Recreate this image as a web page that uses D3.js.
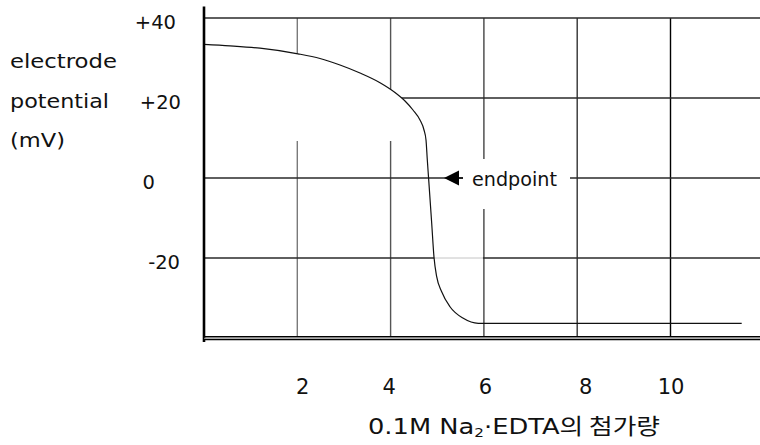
<!DOCTYPE html>
<html>
<head>
<meta charset="utf-8">
<script src="https://cdn.jsdelivr.net/npm/d3@7"></script>
<style>
  html, body { margin: 0; padding: 0; background: #fff; }
  svg { display: block; }
  text { font-family: "DejaVu Sans", "Liberation Sans", sans-serif; fill: #111; }
</style>
</head>
<body>
<svg id="chart" width="760" height="445"></svg>
<script>
// ---- data ----
const volume    = [0, 0.557, 1.200, 2.015, 2.487, 2.915, 3.344, 3.773, 4.094, 4.309, 4.480, 4.630, 4.716, 4.759, 4.787, 4.815, 4.881, 4.930, 4.988, 5.095, 5.273, 5.558, 5.880, 11.526];
const potential = [33.43, 33.05, 32.45, 31.05, 29.88, 28.25, 26.25, 23.83, 21.38, 19.25, 17.0, 14.5, 12.0, 9.5, 4.5, -0.15, -11.3, -19.75, -24.68, -28.43, -32.18, -35.08, -36.33, -36.33];
const xTicks = [2, 4, 6, 8, 10];
const yTicks = [40, 20, 0, -20];
const yTickLabels = ["+40", "+20", "0", "-20"];
const yTitleLines = ["electrode", "potential", "(mV)"];
const xTitleParts = ["0.1M Na", "2", "·EDTA", "의 첨가량"];
const endpointLabel = "endpoint";
const endpointValue = 0;

// ---- layout ----
const svg = d3.select("#chart");
const x = d3.scaleLinear().domain([0, 12]).range([204, 204 + 12 * 46.65]);
const y = d3.scaleLinear().domain([-40, 40]).range([338, 18]);
const W = 760;
const pts = volume.map((v, i) => [v, potential[i]]);

function crossAt(level) {
  for (let i = 1; i < pts.length; i++) {
    const a = pts[i - 1], b = pts[i];
    if ((a[1] - level) * (b[1] - level) <= 0 && a[1] !== b[1]) {
      return a[0] + (level - a[1]) / (b[1] - a[1]) * (b[0] - a[0]);
    }
  }
  return null;
}

const g = svg.append("g");

// vertical gridlines
const vColors = ["#7a7a7a", "#555", "#444", "#333", "#000"];
g.selectAll("line.vgrid").data(xTicks).join("line")
  .attr("class", "vgrid")
  .attr("x1", d => x(d)).attr("x2", d => x(d))
  .attr("y1", y(40)).attr("y2", y(-40) - 1)
  .attr("stroke", (d, i) => vColors[i])
  .attr("stroke-width", 1.4);

// horizontal gridlines
const gridLevels = [40, 20, 0, -20];
g.selectAll("line.hgrid").data(gridLevels).join("line")
  .attr("class", "hgrid")
  .attr("x1", x(0)).attr("x2", W)
  .attr("y1", d => y(d)).attr("y2", d => y(d))
  .attr("stroke", "#2a2a2a")
  .attr("stroke-width", 1.3);

// lighter piece of the -20 line between the curve and the 6 gridline
const c20 = crossAt(-20);
g.append("line")
  .attr("x1", x(c20)).attr("x2", x(6) - 1)
  .attr("y1", y(-20)).attr("y2", y(-20))
  .attr("stroke", "#fff").attr("stroke-width", 2);
g.append("line")
  .attr("x1", x(c20)).attr("x2", x(6) - 1)
  .attr("y1", y(-20)).attr("y2", y(-20))
  .attr("stroke", "#c4c4c4").attr("stroke-width", 1);

// white mask below the upper part of the curve
const maskLevel = 9.25;
const upper = pts.filter(p => p[1] >= maskLevel);
g.append("path")
  .datum(upper)
  .attr("fill", "#fff")
  .attr("d", d3.area()
    .x(d => x(d[0]))
    .y0(y(maskLevel))
    .y1(d => y(d[1]))
    .curve(d3.curveMonotoneX));

// endpoint label box
const labelBoxX0 = 463, labelBoxX1 = 570;
g.append("rect")
  .attr("x", labelBoxX0).attr("y", y(endpointValue) - 19)
  .attr("width", labelBoxX1 - labelBoxX0).attr("height", 50)
  .attr("fill", "#fff");
g.append("line")
  .attr("x1", 455).attr("x2", 463)
  .attr("y1", y(endpointValue)).attr("y2", y(endpointValue))
  .attr("stroke", "#000").attr("stroke-width", 1.3);
g.append("path")
  .attr("d", `M444,${y(endpointValue)} L459,${y(endpointValue) - 7.5} L459,${y(endpointValue) + 7.5} Z`)
  .attr("fill", "#000");
g.append("text")
  .attr("x", 472).attr("y", y(endpointValue) + 8)
  .attr("font-size", 19)
  .attr("textLength", 85).attr("lengthAdjust", "spacingAndGlyphs")
  .text(endpointLabel);

// curve
g.append("path")
  .datum(pts)
  .attr("fill", "none")
  .attr("stroke", "#111")
  .attr("stroke-width", 1.2)
  .attr("d", d3.line().x(d => x(d[0])).y(d => y(d[1])).curve(d3.curveMonotoneX));

// axis frame: left vertical + double bottom line
g.append("line")
  .attr("x1", x(0)).attr("x2", x(0))
  .attr("y1", 6.5).attr("y2", 342)
  .attr("stroke", "#000").attr("stroke-width", 2.6);
g.append("line")
  .attr("x1", x(0)).attr("x2", W)
  .attr("y1", 336.8).attr("y2", 336.8)
  .attr("stroke", "#000").attr("stroke-width", 1.6);
g.append("line")
  .attr("x1", x(0)).attr("x2", W)
  .attr("y1", 338.3).attr("y2", 338.3)
  .attr("stroke", "#999").attr("stroke-width", 1);
g.append("line")
  .attr("x1", x(0)).attr("x2", W)
  .attr("y1", 339.6).attr("y2", 339.6)
  .attr("stroke", "#000").attr("stroke-width", 1.4);

// y axis tick labels
const yLabelDx = { "+40": -5, "+20": 0, "0": -26, "-20": -1 };
const yAxis = d3.axisLeft(y)
  .tickValues(yTicks)
  .tickFormat((d, i) => yTickLabels[i])
  .tickSize(0)
  .tickPadding(23);
const ya = svg.append("g").attr("transform", `translate(${x(0)},0)`).call(yAxis);
ya.select(".domain").remove();
ya.selectAll("text")
  .attr("font-family", "DejaVu Sans, sans-serif")
  .attr("font-size", 19.5)
  .attr("fill", "#111")
  .attr("dy", "0.52em")
  .attr("dx", d => yLabelDx[yTickLabels[yTicks.indexOf(d)]]);

// x axis tick labels
const xLabelDx = [5, -2, 1, 8, 0];
const xAxis = d3.axisBottom(x)
  .tickValues(xTicks)
  .tickSize(0)
  .tickPadding(41);
const xa = svg.append("g").attr("transform", `translate(0,${y(-40)})`).call(xAxis);
xa.select(".domain").remove();
xa.selectAll("text")
  .attr("font-family", "DejaVu Sans, sans-serif")
  .attr("font-size", 21)
  .attr("fill", "#111")
  .attr("dx", (d, i) => xLabelDx[i]);

// y axis title (three lines)
const yTitleLen = [107, 99, 55];
svg.append("g").selectAll("text").data(yTitleLines).join("text")
  .attr("x", 10)
  .attr("y", (d, i) => 68 + i * 39.5)
  .attr("font-size", 20)
  .attr("textLength", (d, i) => yTitleLen[i])
  .attr("lengthAdjust", "spacingAndGlyphs")
  .text(d => d);

// x axis title
const xt = svg.append("text")
  .attr("x", 368).attr("y", 434)
  .attr("font-size", 22)
  .attr("textLength", 292)
  .attr("lengthAdjust", "spacingAndGlyphs");
xt.append("tspan").text(xTitleParts[0]);
xt.append("tspan").attr("font-size", 13).attr("dy", 3).text(xTitleParts[1]);
xt.append("tspan").attr("dy", -3).text(xTitleParts[2]);
xt.append("tspan").attr("font-family", "Noto Sans CJK KR").text(xTitleParts[3]);
</script>
</body>
</html>
